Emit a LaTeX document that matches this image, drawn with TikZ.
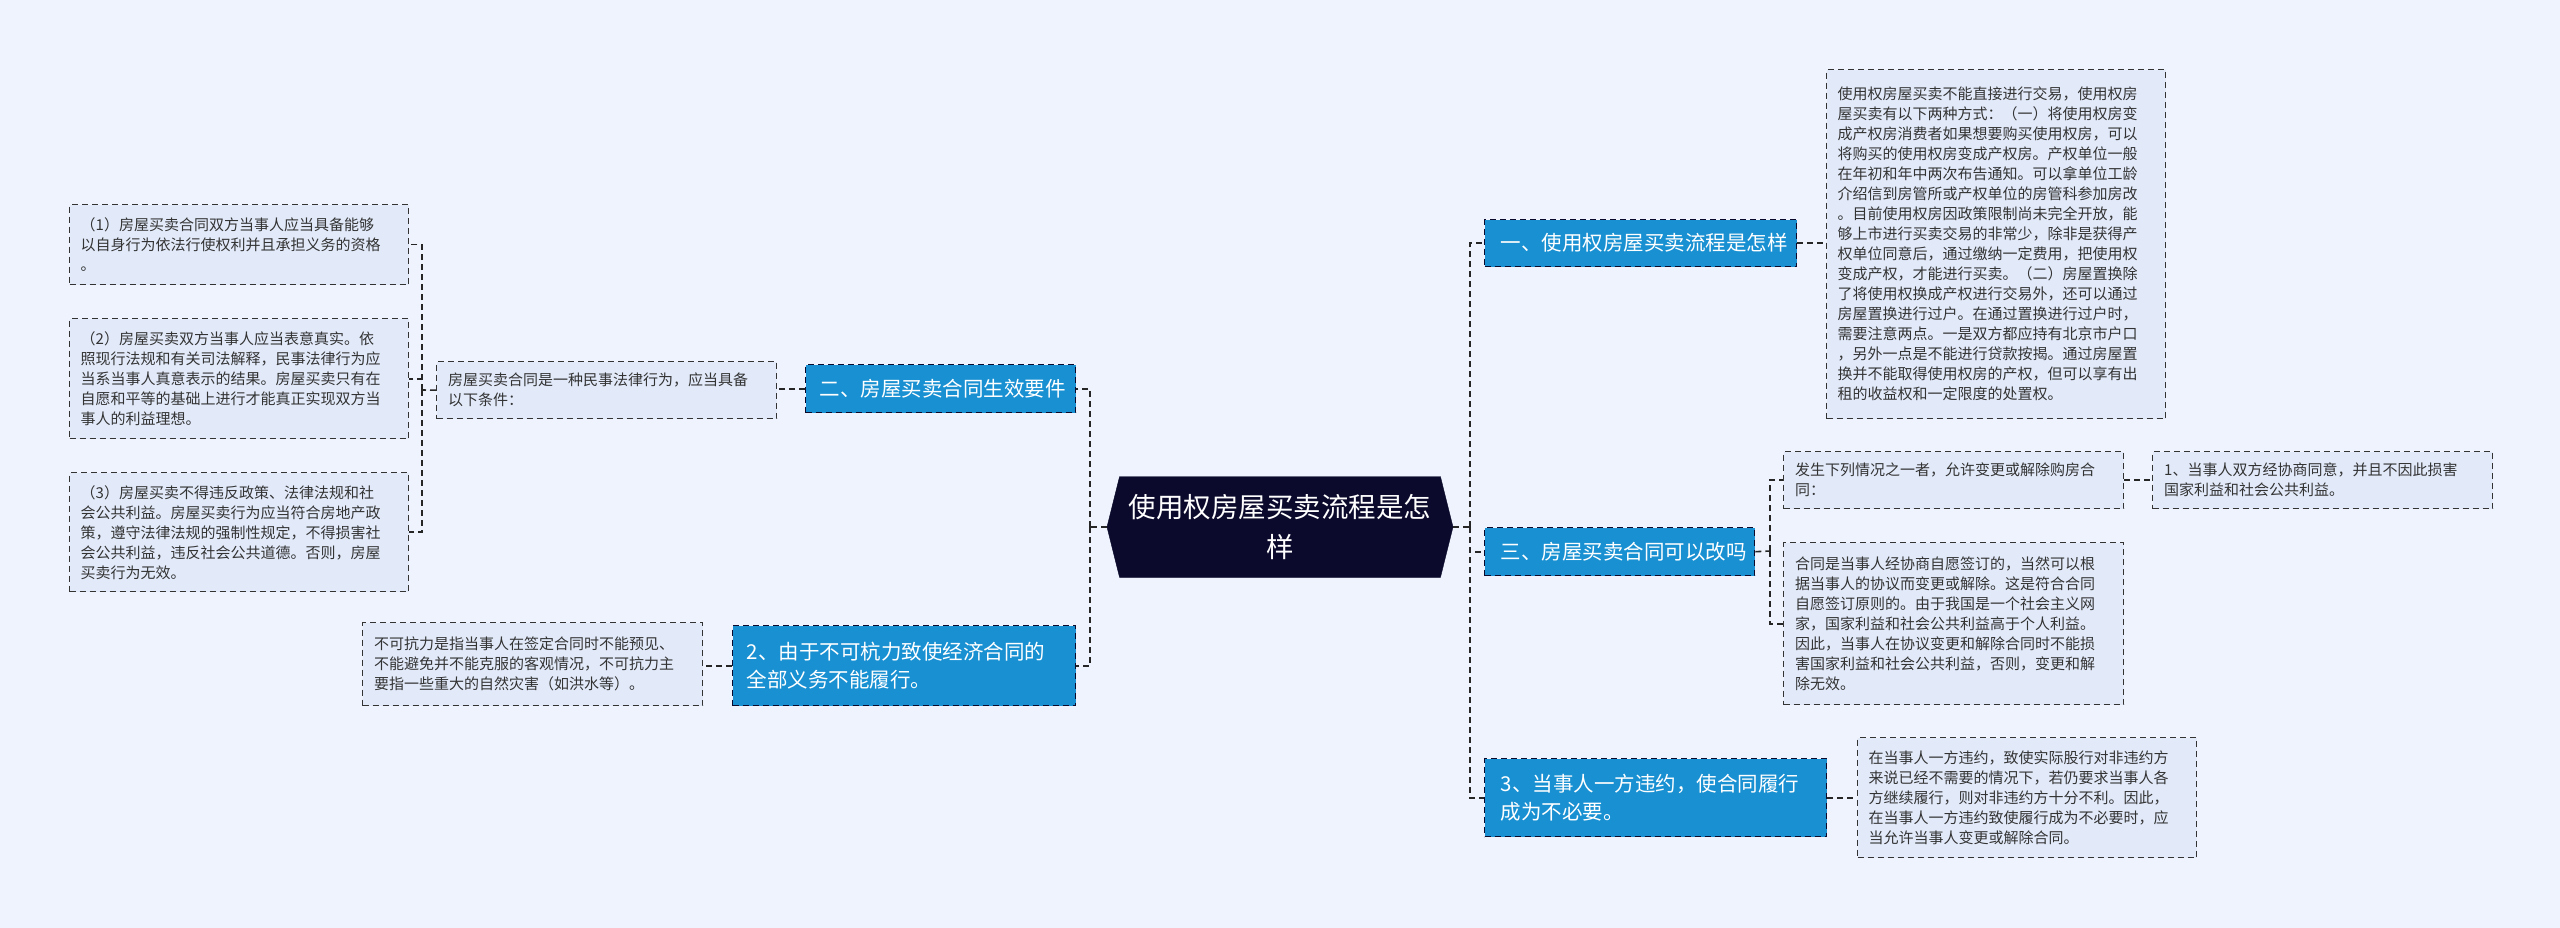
\documentclass[tikz,border=0pt]{standalone}
\usepackage{fontspec}
\setmainfont{Noto Sans CJK SC}
\usetikzlibrary{shapes.symbols}
\definecolor{bg}{HTML}{EEF3FD}
\definecolor{leaffill}{HTML}{E2EAFA}
\definecolor{brfill}{HTML}{1890D2}
\definecolor{ctfill}{HTML}{0B0A2C}
\definecolor{txt}{HTML}{333333}
\tikzset{
  x=1pt,y=-1pt,
  conn/.style={draw=black!85,line width=1.6pt,dash pattern=on 6pt off 4pt},
  leaf/.style={draw=black!80,line width=1.4pt,dash pattern=on 6pt off 4pt,fill=leaffill,
    text=txt,font=\fontsize{15}{20}\selectfont,align=left,inner sep=0pt,anchor=north west},
  branch/.style={draw=ctfill,line width=1.4pt,dash pattern=on 6pt off 4pt,fill=brfill,
    text=white,font=\fontsize{20.5}{28}\selectfont,align=left,inner sep=0pt,anchor=north west},
}
\newcommand{\bx}[6]{% name, style, x1,y1,x2,y2, text via \btext
}
\begin{document}
\begin{tikzpicture}
\fill[bg] (0,0) rectangle (2560,928);
\useasboundingbox (0,0) rectangle (2560,928);
% center
\node[signal,signal to=east and west,signal pointer angle=152,fill=ctfill,draw=ctfill,
  minimum width=346pt,minimum height=101pt,inner sep=0pt,text=white,
  font=\fontsize{27.5}{40}\selectfont,align=center] (c) at (1280,527) {使用权房屋买卖流程是怎\\样};
% right branches
\node[branch,minimum width=312pt,minimum height=47pt,text width=300pt] (b1) at (1484,219) {\hspace*{10pt}一、使用权房屋买卖流程是怎样};
\node[branch,minimum width=270pt,minimum height=48pt,text width=258pt] (b3) at (1484,527) {\hspace*{10pt}三、房屋买卖合同可以改吗};
\node[branch,minimum width=342pt,minimum height=78pt,text width=330pt] (b4) at (1484,758) {\hspace*{10pt}\parbox{320pt}{3、当事人一方违约，使合同履行\\成为不必要。}};
% left branches
\node[branch,minimum width=270pt,minimum height=48pt] (b2) at (805,364) {\hspace*{12pt}二、房屋买卖合同生效要件\hspace*{8pt}};
\node[branch,minimum width=343pt,minimum height=80pt] (b5) at (732,625) {\hspace*{10pt}\parbox{325pt}{2、由于不可杭力致使经济合同的\\全部义务不能履行。}};
% leaves
\node[leaf,minimum width=339pt,minimum height=349pt] (l1) at (1826,69) {\hspace*{8pt}\parbox{325pt}{使用权房屋买卖不能直接进行交易，使用权房\\屋买卖有以下两种方式：（一）将使用权房变\\成产权房消费者如果想要购买使用权房，可以\\将购买的使用权房变成产权房。产权单位一般\\在年初和年中两次布告通知。可以拿单位工龄\\介绍信到房管所或产权单位的房管科参加房改\\。目前使用权房因政策限制尚未完全开放，能\\够上市进行买卖交易的非常少，除非是获得产\\权单位同意后，通过缴纳一定费用，把使用权\\变成产权，才能进行买卖。（二）房屋置换除\\了将使用权换成产权进行交易外，还可以通过\\房屋置换进行过户。在通过置换进行过户时，\\需要注意两点。一是双方都应持有北京市户口\\，另外一点是不能进行贷款按揭。通过房屋置\\换并不能取得使用权房的产权，但可以享有出\\租的收益权和一定限度的处置权。}};
\node[leaf,minimum width=340pt,minimum height=57pt] (l3a) at (1783,451) {\hspace*{8pt}\parbox{325pt}{发生下列情况之一者，允许变更或解除购房合\\同：}};
\node[leaf,minimum width=340pt,minimum height=57pt] (l3a1) at (2152,451) {\hspace*{8pt}\parbox{325pt}{1、当事人双方经协商同意，并且不因此损害\\国家利益和社会公共利益。}};
\node[leaf,minimum width=340pt,minimum height=162pt] (l3b) at (1783,542) {\hspace*{8pt}\parbox{325pt}{合同是当事人经协商自愿签订的，当然可以根\\据当事人的协议而变更或解除。这是符合合同\\自愿签订原则的。由于我国是一个社会主义网\\家，国家利益和社会公共利益高于个人利益。\\因此，当事人在协议变更和解除合同时不能损\\害国家利益和社会公共利益，否则，变更和解\\除无效。}};
\node[leaf,minimum width=339pt,minimum height=120pt] (l4) at (1857,737) {\hspace*{8pt}\parbox{325pt}{在当事人一方违约，致使实际股行对非违约方\\来说已经不需要的情况下，若仍要求当事人各\\方继续履行，则对非违约方十分不利。因此，\\在当事人一方违约致使履行成为不必要时，应\\当允许当事人变更或解除合同。}};
\node[leaf,minimum width=340pt,minimum height=57pt] (l2) at (436,361) {\hspace*{8pt}\parbox{325pt}{房屋买卖合同是一种民事法律行为，应当具备\\以下条件：}};
\node[leaf,minimum width=339pt,minimum height=80pt] (l2a) at (69,204) {\hspace*{8pt}\parbox{325pt}{（1）房屋买卖合同双方当事人应当具备能够\\以自身行为依法行使权利并且承担义务的资格\\。}};
\node[leaf,minimum width=339pt,minimum height=120pt] (l2b) at (69,318) {\hspace*{8pt}\parbox{325pt}{（2）房屋买卖双方当事人应当表意真实。依\\照现行法规和有关司法解释，民事法律行为应\\当系当事人真意表示的结果。房屋买卖只有在\\自愿和平等的基础上进行才能真正实现双方当\\事人的利益理想。}};
\node[leaf,minimum width=339pt,minimum height=119pt] (l2c) at (69,472) {\hspace*{8pt}\parbox{325pt}{（3）房屋买卖不得违反政策、法律法规和社\\会公共利益。房屋买卖行为应当符合房地产政\\策，遵守法律法规的强制性规定，不得损害社\\会公共利益，违反社会公共道德。否则，房屋\\买卖行为无效。}};
\node[leaf,minimum width=340pt,minimum height=83pt] (l5) at (362,622) {\hspace*{8pt}\parbox{325pt}{不可抗力是指当事人在签定合同时不能预见、\\不能避免并不能克服的客观情况，不可抗力主\\要指一些重大的自然灾害（如洪水等）。}};
% connectors right
\draw[conn] (c.east) -- (1470,527);
\draw[conn] (1470,527) |- (b1.west);
\draw[conn] (1470,527) |- (b3.west);
\draw[conn] (1470,527) |- (b4.west);
\draw[conn] (b1.east) -- (l1.west |- b1.east);
\draw[conn] (b3.east) -- (1770,551);
\draw[conn] (1770,551) |- (l3a.west);
\draw[conn] (1770,551) |- (l3b.west);
\draw[conn] (l3a.east) -- (l3a1.west);
\draw[conn] (b4.east) -- (l4.west |- b4.east);
% connectors left
\draw[conn] (c.west) -- (1090,527);
\draw[conn] (1090,527) |- (b2.east);
\draw[conn] (1090,527) |- (b5.east);
\draw[conn] (b2.west) -- (l2.east |- b2.west);
\draw[conn] (l2.west) -- (422,390);
\draw[conn] (422,390) |- (l2a.east);
\draw[conn] (422,390) |- (l2b.east);
\draw[conn] (422,390) |- (l2c.east);
\draw[conn] (b5.west) -- (l5.east |- b5.west);
\end{tikzpicture}
\end{document}
